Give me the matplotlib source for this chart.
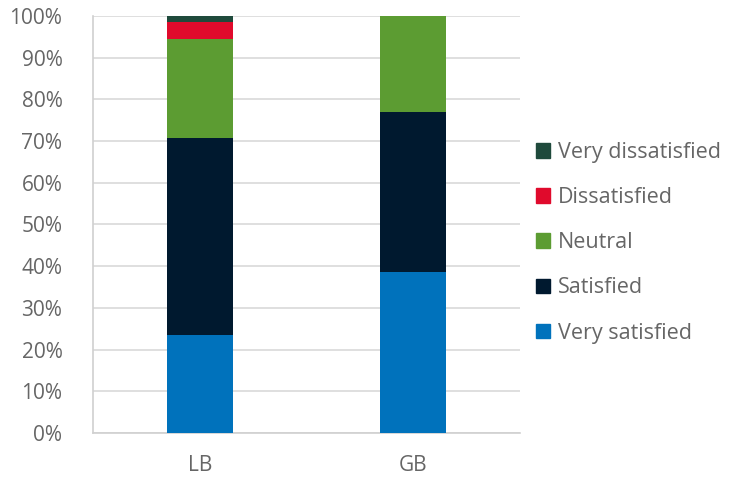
import matplotlib
matplotlib.use("Agg")
import matplotlib.pyplot as plt
from matplotlib.patches import Patch
from matplotlib.ticker import PercentFormatter
import numpy as np

groups = ["LB", "GB"]
levels = ["Very satisfied", "Satisfied", "Neutral", "Dissatisfied", "Very dissatisfied"]
lb_share = [23.6, 47.2, 23.6, 4.2, 1.4]
gb_share = [38.5, 38.5, 23.1, 0.0, 0.0]
colors = ["#0072BC", "#00192F", "#5C9C32", "#E00A2C", "#1F4A3C"]

plt.rcParams["font.family"] = ["Open Sans", "DejaVu Sans"]
txt = "#666666"

fig = plt.figure(figsize=(7.35, 4.8), dpi=100)
ax = fig.add_axes([0.1265, 0.098, 0.581, 0.869])

x = np.arange(len(groups))
data = np.array([lb_share, gb_share]).T
bottom = np.zeros(len(groups))
for lvl, vals, c in zip(levels, data, colors):
    ax.bar(x, vals, width=0.31, bottom=bottom, color=c, label=lvl, zorder=3)
    bottom += vals

ax.set_xlim(-0.5, 1.5)
ax.set_ylim(0, 100)
ax.set_yticks(np.arange(0, 101, 10))
ax.yaxis.set_major_formatter(PercentFormatter(decimals=0))
ax.set_xticks(x)
ax.set_xticklabels(groups)
ax.grid(axis="y", color="#d9d9d9", linewidth=1.2, zorder=0)
for s in ["top", "right"]:
    ax.spines[s].set_visible(False)
for s in ["left", "bottom"]:
    ax.spines[s].set_color("#d0d0d0")
    ax.spines[s].set_linewidth(1.2)
ax.tick_params(axis="both", length=0, labelsize=15, colors=txt)
ax.tick_params(axis="y", pad=22)
ax.tick_params(axis="x", pad=16)

handles = [Patch(color=c) for c in colors][::-1]
leg = fig.legend(handles, levels[::-1], loc="center left",
                 bbox_to_anchor=(0.717, 0.494), frameon=False,
                 fontsize=15.5, handlelength=0.68, handleheight=0.68,
                 handletextpad=0.35, labelspacing=1.12, borderaxespad=0)
for t in leg.get_texts():
    t.set_color(txt)

fig.savefig("out.png", dpi=100)
